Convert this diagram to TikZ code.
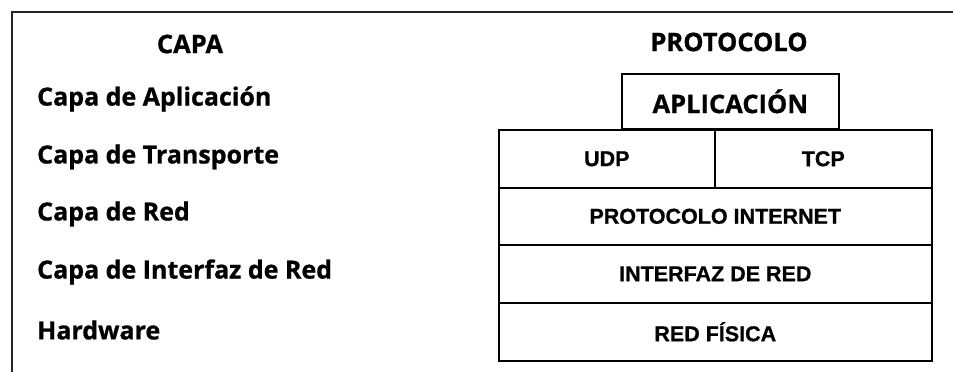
\documentclass[tikz,border=0pt]{standalone}
\usepackage{fontspec}
\newfontfamily\labelfont[FakeBold=0.8]{Open Sans Bold}
\newfontfamily\cellfont[FakeBold=0.8]{Liberation Sans Bold}
\begin{document}
\begin{tikzpicture}[x=1pt,y=-1pt,
  label/.style={font=\labelfont\fontsize{25}{28}\selectfont, inner sep=0pt},
  head/.style={label, anchor=center, font=\labelfont\fontsize{25.5}{28}\selectfont},
  layer/.style={label, anchor=west},
  cell/.style={draw=black, line width=1.6pt, anchor=north west, inner sep=0pt,
    font=\cellfont\fontsize{21.5}{24}\selectfont},
  topcell/.style={cell, font=\labelfont\fontsize{25.5}{28}\selectfont}]
\useasboundingbox (0,0) rectangle (953,372);
% frame
\coordinate (fb) at (953,12);
\coordinate (fc) at (12,372);
\draw[line width=1.6pt, black!85] (fc) |- (fb);
% column headings
\node[head] (capa) at (190,44) {CAPA};
\node[head] (proto) at (729,42) {PROTOCOLO};
% layer names
\node[layer] (l1) at (37,99) {Capa de Aplicación};
\node[layer] (l2) at (37,157) {Capa de Transporte};
\node[layer] (l3) at (37,214) {Capa de Red};
\node[layer] (l4) at (37,272) {Capa de Interfaz de Red};
\node[layer] (l5) at (37,330) {Hardware};
% protocol stack
\node[topcell, minimum width=217pt, minimum height=55pt] (app) at (621,73) {APLICACIÓN};
\node[cell, minimum width=216pt, minimum height=58pt] (udp) at (498,129) {UDP};
\node[cell, minimum width=217pt, minimum height=58pt] (tcp) at (714,129) {TCP};
\node[cell, minimum width=433pt, minimum height=57pt] (ip) at (498,187) {PROTOCOLO INTERNET};
\node[cell, minimum width=433pt, minimum height=58pt] (nif) at (498,244) {INTERFAZ DE RED};
\node[cell, minimum width=433pt, minimum height=58pt] (phy) at (498,302) {RED FÍSICA};
\end{tikzpicture}
\end{document}
